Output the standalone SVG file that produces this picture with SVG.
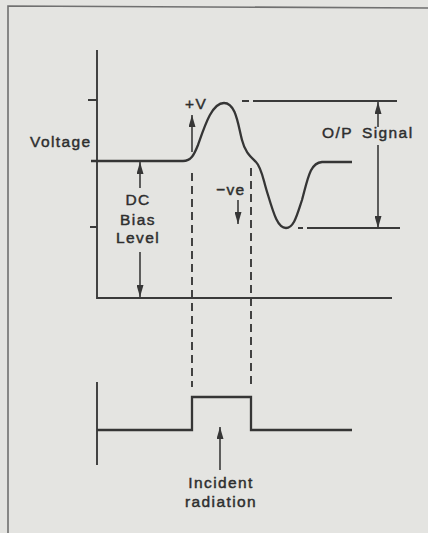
<svg xmlns="http://www.w3.org/2000/svg" width="428" height="533" viewBox="0 0 428 533">
<defs>
<style>
.ln{fill:none;stroke:#353535;stroke-width:2.3;stroke-linecap:butt}
.ax{fill:none;stroke:#3a3a3a;stroke-width:1.9}
.dash{fill:none;stroke:#3a3a3a;stroke-width:1.9;stroke-dasharray:8 5}
.arr{fill:none;stroke:#3a3a3a;stroke-width:1.6;marker-end:url(#ah)}
.frame{fill:none;stroke:#707070;stroke-width:1.6}
text{font-family:"Liberation Sans",Arial,sans-serif;font-size:15.5px;fill:#2e2e2e;stroke:#2e2e2e;stroke-width:0.45px;letter-spacing:1.4px}
</style>
<marker id="ah" viewBox="0 0 12 7" refX="12" refY="3.5" markerWidth="12" markerHeight="7" markerUnits="userSpaceOnUse" orient="auto">
<path d="M0,0 L12,3.5 L0,7 Z" fill="#363636"/>
</marker>
</defs>
<rect x="0" y="0" width="428" height="533" fill="#e4e4e1"/>
<g id="frame">
<path class="frame" d="M8,533 V6 L428,8"/>
</g>
<g id="axes">
<path class="ax" d="M97,50 V298 H392"/>
<path class="ax" d="M88,100 H97 M90,227 H97"/>
<path class="ax" d="M97,382 V465"/>
</g>
<g id="waveform">
<path class="ln" d="M91,161 H183 C191,161 194,155 198,145 C205,125 212,103 224,103 C236,103 238,125 242,140 C245,152 250,156 256,162 C262,168 263,180 268,195 C274,215 278,228 286,228 C294,228 297,215 302,200 C308,178 310,163 322,162 H352"/>
<path class="ax" d="M242,101 H249 M253,101 H397 M298,228 H303 M307,228 H400"/>
</g>
<g id="pulse">
<path class="ln" d="M97,430 H192 V397 H251 V430 H352"/>
</g>
<g id="connectors">
<path class="dash" d="M192,173 V387"/>
<path class="dash" d="M251,168 V387"/>
<path class="arr" d="M192,152 V115"/>
<path class="arr" d="M238,200 V224"/>
<path class="arr" d="M140,188 V162"/>
<path class="arr" d="M140,252 V297"/>
<path class="arr" d="M378,127 V102"/>
<path class="arr" d="M378,145 V228"/>
<path class="arr" d="M220,470 V427"/>
</g>
<g id="labels">
<text x="30" y="147">Voltage</text>
<text x="185" y="109">+V</text>
<text x="216" y="195">−ve</text>
<text x="138" y="205" text-anchor="middle">DC</text>
<text x="138" y="225" text-anchor="middle">Bias</text>
<text x="138" y="243" text-anchor="middle">Level</text>
<text x="322" y="138">O/P<tspan x="362">Signal</tspan></text>
<text x="221" y="488" text-anchor="middle">Incident</text>
<text x="221" y="507" text-anchor="middle">radiation</text>
</g>
</svg>
